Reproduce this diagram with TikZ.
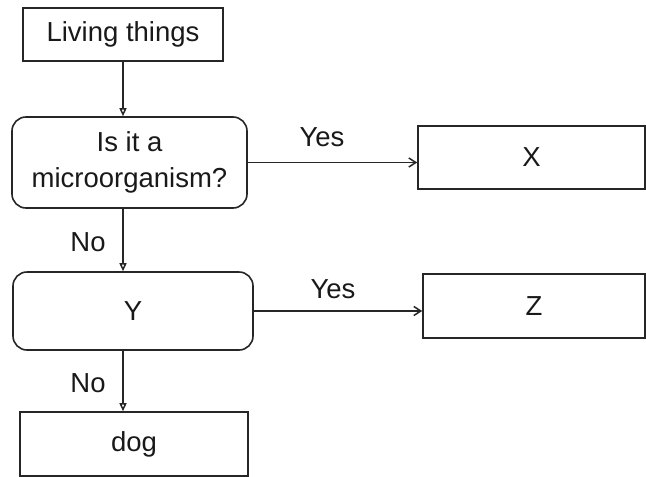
\documentclass[tikz,border=0pt]{standalone}
\usepackage{fontspec}
\setmainfont{Liberation Sans}
\usetikzlibrary{arrows.meta}
\begin{document}
\begin{tikzpicture}[x=1pt,y=-1pt,
  every node/.style={font=\fontsize{27.5}{36}\selectfont, text=black!90},
  box/.style={draw=black!85, line width=1.6pt, inner sep=0pt, align=center},
  rbox/.style={box, rounded corners=14pt},
  lbl/.style={inner sep=0pt},
  vline/.style={draw=black!85, line width=1.5pt, -{Triangle[open, length=8pt, width=7pt]}},
  hline/.style={draw=black!85, line width=1.5pt, -{Straight Barb[length=7pt, width=9pt]}}]
\useasboundingbox (0,0) rectangle (646,477);
\node[box, minimum width=200pt, minimum height=53pt] (living) at (123,34.5) {Living things};
\node[rbox, minimum width=235pt, minimum height=91pt] (q) at (129.5,162.5) {\raisebox{-3pt}{\parbox{230pt}{\centering Is it a\\microorganism?}}};
\node[box, minimum width=227pt, minimum height=63pt] (x) at (531.5,157.5) {X};
\node[rbox, minimum width=240pt, minimum height=78pt] (y) at (133,311) {Y};
\node[box, minimum width=222pt, minimum height=64pt] (z) at (534,306) {Z};
\node[box, minimum width=228pt, minimum height=64pt] (dog) at (134,444) {dog};
\draw[vline] (living.south) -- (living.south |- q.north);
\draw[vline] (q.south -| living.south) -- (y.north -| living.south);
\draw[vline] (y.south -| living.south) -- (dog.north -| living.south);
\draw[hline] (q.east) -- (q.east -| x.west);
\draw[hline] (y.east) -- (y.east -| z.west);
\node[lbl] (yes1) at (322,137) {Yes};
\node[lbl] (yes2) at (333,289) {Yes};
\node[lbl] (no1) at (88,242) {No};
\node[lbl] (no2) at (88,383) {No};
\end{tikzpicture}
\end{document}
